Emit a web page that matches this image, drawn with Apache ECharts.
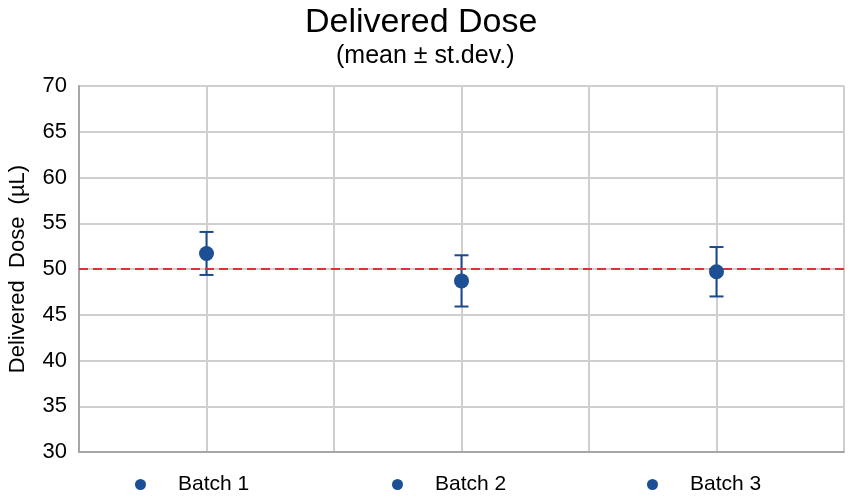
<!DOCTYPE html>
<html>
<head>
<meta charset="utf-8">
<script src="https://cdn.jsdelivr.net/npm/echarts@6/dist/echarts.min.js"></script>
<style>html,body{margin:0;padding:0;background:#fff}#c{width:853px;height:500px}</style>
</head>
<body>
<div id="c"></div>
<script>
var categories = ['Batch 1', 'Batch 2', 'Batch 3'];
var means = [51.7, 48.7, 49.7];
var stdevs = [2.35, 2.8, 2.7];
var targetValue = 50;
var yTicks = {min: 30, max: 70, interval: 5};

var chart = echarts.init(document.getElementById('c'));
var FONT = '"Liberation Sans", Arial, sans-serif';
var BLUE = '#1C4F93';
var series = [];
categories.forEach(function (name, i) {
  var d = [null, null, null];
  d[i] = means[i];
  series.push({
    name: name, type: 'scatter', xAxisIndex: 0, data: d,
    symbol: 'circle', symbolSize: 15, z: 5,
    itemStyle: {color: BLUE, opacity: 1}
  });
});
series.push({
  type: 'custom', xAxisIndex: 0, z: 4,
  data: categories.map(function (c, i) { return [i, means[i] - stdevs[i], means[i] + stdevs[i]]; }),
  renderItem: function (params, api) {
    var lo = api.coord([api.value(0), api.value(1)]);
    var hi = api.coord([api.value(0), api.value(2)]);
    var hw = 7;
    var st = {stroke: '#1B4A8C', lineWidth: 2};
    return {type: 'group', children: [
      {type: 'line', shape: {x1: lo[0], y1: lo[1], x2: hi[0], y2: hi[1]}, style: st},
      {type: 'line', shape: {x1: lo[0] - hw, y1: lo[1], x2: lo[0] + hw, y2: lo[1]}, style: st},
      {type: 'line', shape: {x1: hi[0] - hw, y1: hi[1], x2: hi[0] + hw, y2: hi[1]}, style: st}
    ]};
  }
});
series[0].markLine = {
  silent: true, symbol: 'none', label: {show: false},
  lineStyle: {color: '#E0303A', type: [9, 5], width: 2, opacity: 1},
  data: [{yAxis: targetValue}]
};

var legends = categories.map(function (name, i) {
  return {
    data: [name], bottom: 0, left: [130, 387, 642][i],
    icon: 'circle', itemWidth: 11, itemHeight: 11,
    itemStyle: {color: BLUE, opacity: 1},
    textStyle: {fontFamily: FONT, fontSize: 21, color: '#000', padding: [0, 0, 0, 27]}
  };
});

chart.setOption({
  animation: false,
  title: [
    {text: 'Delivered Dose', left: 300, top: 1, textStyle: {fontFamily: FONT, fontSize: 34, fontWeight: 'normal', color: '#000'}},
    {text: '(mean ± st.dev.)', left: 331, top: 39, textStyle: {fontFamily: FONT, fontSize: 25, fontWeight: 'normal', color: '#000'}}
  ],
  legend: legends,
  grid: {left: 79, right: 9, top: 86, bottom: 48, show: true, borderColor: '#BDBDBD', borderWidth: 1, outerBoundsMode: 'none', containLabel: false},
  xAxis: [
    {type: 'category', data: categories, boundaryGap: true,
     axisLine: {show: true, lineStyle: {color: '#A6A6A6', width: 2}}, axisTick: {show: false}, axisLabel: {show: false},
     splitLine: {show: false}},
    {type: 'category', data: ['a', 'b', 'c', 'd', 'e', 'f'], boundaryGap: true, position: 'bottom',
     axisLine: {show: false}, axisTick: {show: false}, axisLabel: {show: false},
     splitLine: {show: true, lineStyle: {color: '#CFCFCF', width: 2}}}
  ],
  yAxis: {
    type: 'value', min: yTicks.min, max: yTicks.max, interval: yTicks.interval,
    name: 'Delivered  Dose  (µL)', nameLocation: 'middle', nameGap: 50, nameRotate: 90,
    nameTextStyle: {fontFamily: FONT, fontSize: 22, color: '#000'},
    axisLine: {show: true, lineStyle: {color: '#A6A6A6', width: 2}}, axisTick: {show: false},
    axisLabel: {fontFamily: FONT, fontSize: 22, color: '#000', margin: 12},
    splitLine: {show: true, lineStyle: {color: '#CFCFCF', width: 2}}
  },
  series: series
});
</script>
</body>
</html>
